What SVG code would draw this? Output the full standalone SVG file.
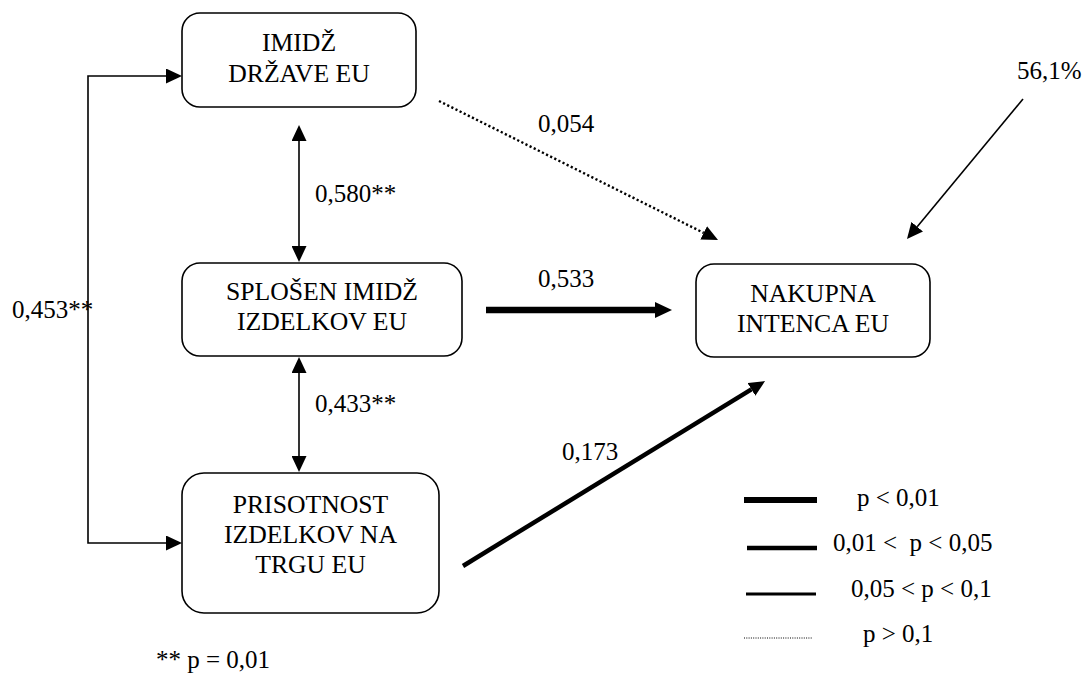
<svg xmlns="http://www.w3.org/2000/svg" width="1088" height="675" viewBox="0 0 1088 675" font-family="'Liberation Serif', 'DejaVu Serif', Tinos, 'Times New Roman', serif">
  <style>
    text { font-family: "Liberation Serif", "DejaVu Serif", Tinos, "Times New Roman", serif; font-size: 25px; fill: #000; }
    .box { fill: #fff; stroke: #000; stroke-width: 1.6; }
    .mid { text-anchor: middle; font-size: 25.7px; }
    .thin { fill: none; stroke: #000; stroke-width: 1.6; }
    .dot { fill: none; stroke: #000; stroke-width: 2.4; stroke-dasharray: 2.2 2.4; }
  </style>
  <defs>
    <marker id="head" viewBox="0 -7.5 16 15" refX="0" refY="0" markerWidth="16" markerHeight="15" markerUnits="userSpaceOnUse" orient="auto-start-reverse">
      <path d="M0,-7.5 L16,0 L0,7.5 Z" fill="#000"/>
    </marker>
    <marker id="headBig" viewBox="0 -8 17 16" refX="0" refY="0" markerWidth="17" markerHeight="16" markerUnits="userSpaceOnUse" orient="auto">
      <path d="M0,-8 L17,0 L0,8 Z" fill="#000"/>
    </marker>
  </defs>

  <!-- connectors -->
  <g id="connectors">
    <path class="thin" d="M166,76 H88 V543 H166" marker-start="url(#head)" marker-end="url(#head)"/>
    <line class="thin" x1="299" y1="141" x2="299" y2="246" marker-start="url(#head)" marker-end="url(#head)"/>
    <line class="thin" x1="299" y1="373" x2="299" y2="456" marker-start="url(#head)" marker-end="url(#head)"/>
    <line class="dot" x1="439" y1="101" x2="703.7" y2="232.9" marker-end="url(#head)"/>
    <line stroke="#000" stroke-width="6.5" x1="486" y1="310" x2="655" y2="310" marker-end="url(#headBig)"/>
    <line stroke="#000" stroke-width="4.5" x1="463" y1="566" x2="751.4" y2="389.4" marker-end="url(#head)"/>
    <line class="thin" x1="1023" y1="99" x2="917.2" y2="226.7" marker-end="url(#head)"/>

    <text x="12" y="318">0,453**</text>
    <text x="315" y="202">0,580**</text>
    <text x="315" y="412">0,433**</text>
    <text x="538" y="132">0,054</text>
    <text x="538" y="287">0,533</text>
    <text x="562" y="460">0,173</text>
    <text x="1017" y="79">56,1%</text>
  </g>

  <!-- nodes -->
  <g id="node-imidz-drzave">
    <rect class="box" x="182" y="13" width="234" height="94" rx="18"/>
    <text class="mid" x="299" y="51">IMIDŽ</text>
    <text class="mid" x="299" y="82">DRŽAVE EU</text>
  </g>
  <g id="node-splosen-imidz">
    <rect class="box" x="182" y="263" width="280" height="93" rx="18"/>
    <text class="mid" x="322" y="300">SPLOŠEN IMIDŽ</text>
    <text class="mid" x="322" y="330">IZDELKOV EU</text>
  </g>
  <g id="node-prisotnost">
    <rect class="box" x="182" y="473" width="257" height="140" rx="22"/>
    <text class="mid" x="310.5" y="513">PRISOTNOST</text>
    <text class="mid" x="310.5" y="543">IZDELKOV NA</text>
    <text class="mid" x="310.5" y="573">TRGU EU</text>
  </g>
  <g id="node-nakupna-intenca">
    <rect class="box" x="696" y="264" width="234" height="93" rx="18"/>
    <text class="mid" x="813" y="302">NAKUPNA</text>
    <text class="mid" x="813" y="332">INTENCA EU</text>
  </g>

  <!-- legend -->
  <g id="legend">
    <line stroke="#000" stroke-width="6" x1="744" y1="500" x2="817" y2="500"/>
    <line stroke="#000" stroke-width="4.5" x1="747" y1="548" x2="817" y2="548"/>
    <line stroke="#000" stroke-width="3" x1="746" y1="594" x2="816" y2="594"/>
    <line stroke="#000" stroke-width="1" stroke-dasharray="1 1.3" x1="744" y1="638" x2="813" y2="638"/>
    <text x="857" y="506">p &lt; 0,01</text>
    <text x="833" y="551" xml:space="preserve">0,01 &lt;  p &lt; 0,05</text>
    <text x="851" y="597">0,05 &lt; p &lt; 0,1</text>
    <text x="863" y="642">p &gt; 0,1</text>
  </g>

  <text x="156" y="668">** p = 0,01</text>
</svg>
